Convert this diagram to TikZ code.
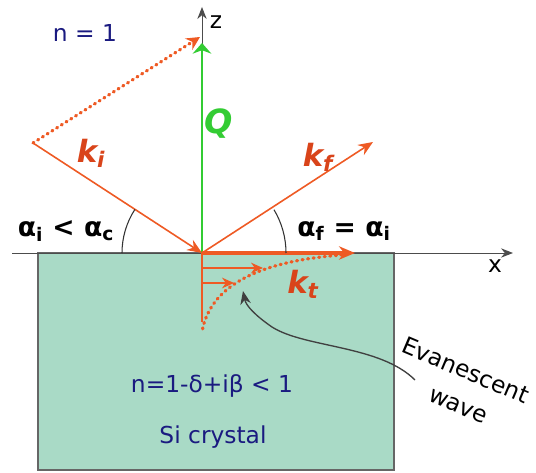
\documentclass[tikz,border=0pt]{standalone}
\usepackage{fontspec}
\setmainfont{DejaVu Sans}
\usetikzlibrary{arrows.meta}
\definecolor{beam}{HTML}{EE5A24}
\definecolor{beamlabel}{HTML}{D9441A}
\definecolor{qgreen}{HTML}{33CC33}
\definecolor{navy}{HTML}{1A1A80}
\definecolor{crystal}{HTML}{A9DAC6}

\begin{document}
\begin{tikzpicture}[
    x=0.75pt, y=-0.75pt,
    every node/.style={font=\fontsize{17.5}{20}\selectfont, inner sep=1pt},
    axis/.style={draw=black!70, line width=0.7pt, -{Stealth[length=9pt,width=7pt]}},
    beam/.style={draw=beam, line width=1.2pt, -{Stealth[length=11pt,width=9pt]}},
    wave/.style={draw=beam, line width=1pt, -{Stealth[length=9pt,width=8pt]}},
    dots/.style={draw=beam, line width=2.4pt, line cap=round, dash pattern=on 0.8pt off 3.4pt},
    anglearc/.style={draw=black!80, line width=0.8pt},
    klabel/.style={text=beamlabel, font=\fontsize{23}{25}\selectfont\bfseries\itshape},
    medium/.style={text=navy},
    anglelabel/.style={font=\fontsize{20}{22}\selectfont\bfseries}
]
\useasboundingbox (0,0) rectangle (536,473);
% Riflessione totale esterna: fascio incidente, riflesso e onda evanescente nel cristallo di Si.
\coordinate (O) at (202,253);
\coordinate (src) at (33,143);
\coordinate (kfend) at (373,142);
\coordinate (dotend) at (200,37);
\coordinate (qtop) at (202,43);
\coordinate (ztop) at (202,7);
\coordinate (xleft) at (12,253);
\coordinate (xright) at (513,253);
\coordinate (ktend) at (355,253);
\coordinate (evbot) at (202,322);
\coordinate (ev1) at (202,268);
\coordinate (ev1end) at (263,268);
\coordinate (ev2) at (202,283);
\coordinate (ev2end) at (234,283);
\coordinate (evtail) at (202,332);
\coordinate (ptrstart) at (415,380);
\coordinate (ptrend) at (243,291);

\draw[draw=black!60, fill=crystal, line width=0.8pt] (38,253) rectangle (394,470);
\draw[axis] (xleft) -- (xright);
\draw[axis] (O) -- (ztop);
\draw[draw=qgreen, line width=1.4pt, -{Stealth[length=8pt,width=14pt]}] (O) -- (qtop);

% fasci
\draw[dots, -{Stealth[length=10pt,width=10pt]}] (src) -- (dotend);
\draw[beam] (src) -- (O);
\draw[beam] (O) -- (kfend);
\draw[beam, line width=2.6pt, -{Stealth[length=12pt,width=10pt]}] (O) -- (ktend);

% onda evanescente
\draw[draw=beam, line width=1pt] (O) -- (evbot);
\draw[wave] (ev1) -- (ev1end);
\draw[wave] (ev2) -- (ev2end);
\draw[dots] (342,255) .. controls (260,261) and (210,285) .. (evtail);

% angoli
\draw[anglearc] (O) ++(180:80) arc (180:213:80);
\draw[anglearc] (O) ++(0:84) arc (0:-31:84);

\draw[draw=black!75, line width=1pt, -{Stealth[length=10pt,width=8pt]}]
    (ptrstart) .. controls (380,345) and (305,348) .. (272,327)
    .. controls (256,316) and (246,306) .. (ptrend);

% etichette
\node[medium] (nvac) at (85,33) {n = 1};
\node (zlab) at (216,22) {z};
\node (xlab) at (495,266) {x};
\node[text=qgreen, font=\fontsize{25}{27}\selectfont\bfseries\itshape] (qlab) at (219,124) {Q};
\node[klabel] (kilab) at (91,153) {k\textsubscript{i}};
\node[klabel] (kflab) at (318,157) {k\textsubscript{f}};
\node[klabel] (ktlab) at (303,284) {k\textsubscript{t}};
\node[anglelabel] (ailab) at (66,231) {α\textsubscript{i} < α\textsubscript{c}};
\node[anglelabel] (aflab) at (344,231) {α\textsubscript{f} = α\textsubscript{i}};
\node[medium] (nsi) at (212,386) {n=1-δ+iβ < 1};
\node[medium] (silab) at (213,437) {Si crystal};
\node[rotate=-23, align=left] (evlab) at (459,386) {Evanescent\\[6pt]\hspace*{33pt}wave};
\end{tikzpicture}
\end{document}
